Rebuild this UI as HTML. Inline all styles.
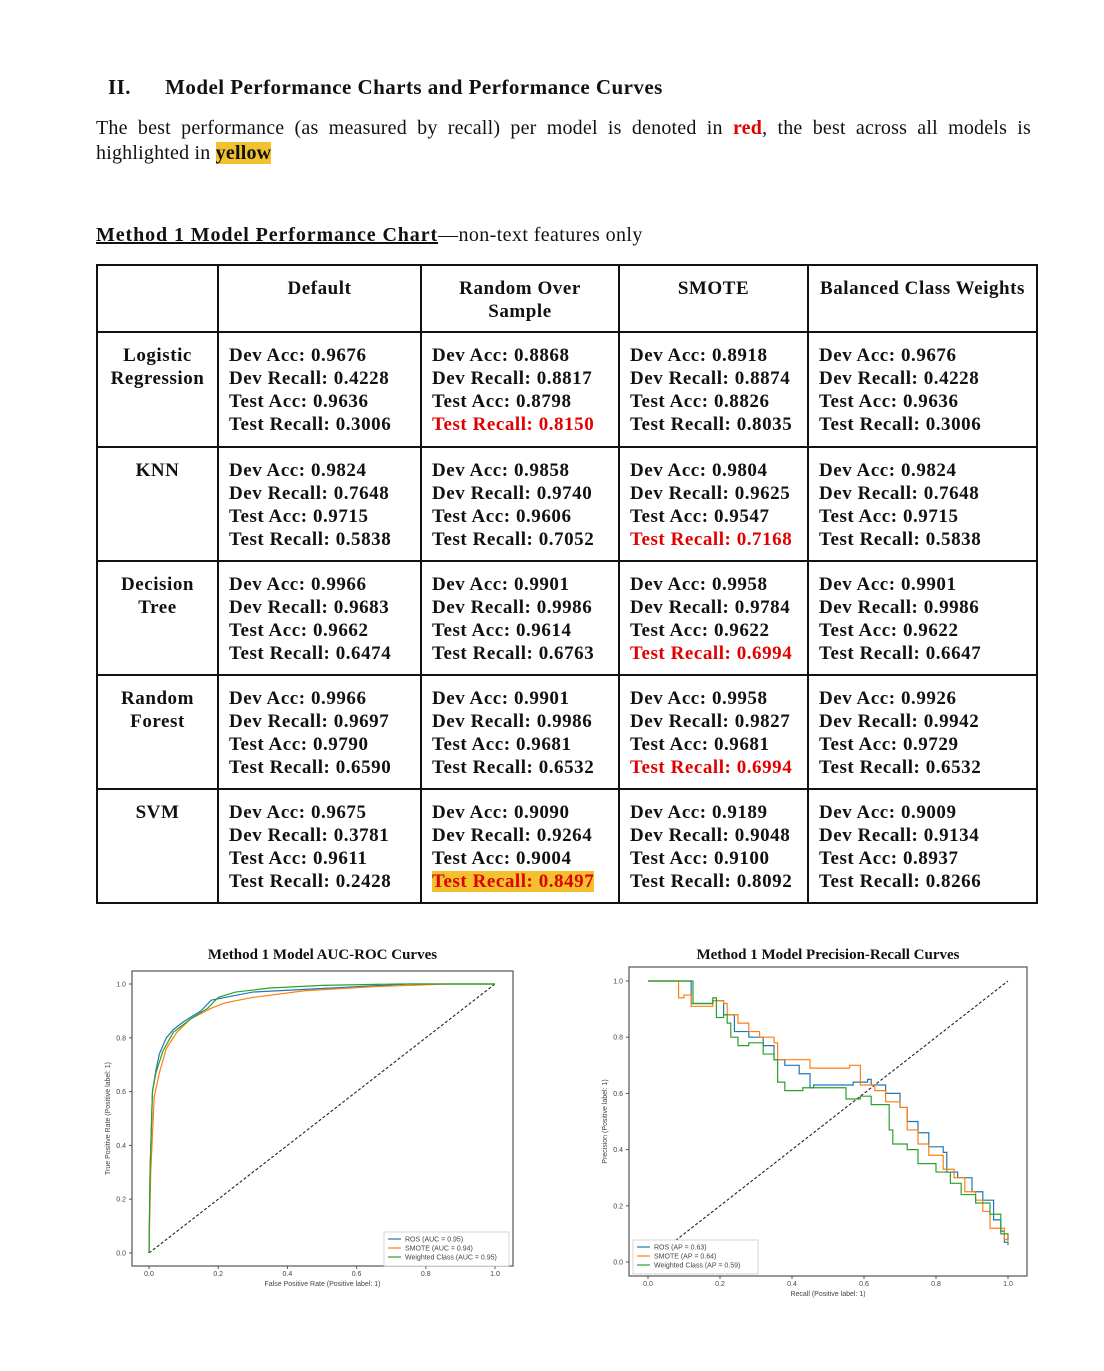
<!DOCTYPE html>
<html><head><meta charset="utf-8">
<style>
body{margin:0;background:#fff;width:1104px;height:1371px;position:relative;overflow:hidden;font-family:"Liberation Serif",serif;color:#111}
h2{position:absolute;left:108px;top:75px;margin:0;font-size:21px;font-weight:bold;letter-spacing:0.45px;white-space:nowrap}
.intro{position:absolute;left:96px;top:116px;width:935px;margin:0;font-size:20px;line-height:25px;letter-spacing:0.2px}
.l1{text-align:justify;text-align-last:justify;white-space:nowrap}
.red{color:#e00000;font-weight:bold}
.hl{background:#f2c12e;font-weight:bold}
.sub{position:absolute;left:96px;top:224px;font-size:20px;letter-spacing:0.4px;white-space:nowrap}
.sub b{text-decoration:underline;letter-spacing:0.9px}
table{position:absolute;left:96px;top:264px;border-collapse:collapse;font-weight:bold;font-size:19px;letter-spacing:0.55px}
td{border:2px solid #111;vertical-align:top;padding:11px 0 0 10px;line-height:23px;box-sizing:border-box;white-space:nowrap}
td.h{text-align:center;padding:11px 2px 0 2px}
.r{color:#e00000}
.y{color:#e00000;background:#f2c12e}
svg{position:absolute;left:0;top:0}
</style></head><body>
<h2>II.&nbsp;&nbsp;&nbsp;&nbsp;&nbsp;&nbsp;Model Performance Charts and Performance Curves</h2>
<div class="intro"><div class="l1">The best performance (as measured by recall) per model is denoted in <span class="red">red</span>, the best across all models is</div><div>highlighted in <span class="hl">yellow</span></div></div>
<div class="sub"><b>Method 1 Model Performance Chart</b>—non-text features only</div>
<table>
<tr style="height:67px"><td style="width:121px"></td><td class="h" style="width:203px">Default</td><td class="h" style="width:198px">Random Over<br>Sample</td><td class="h" style="width:189px">SMOTE</td><td class="h" style="width:229px">Balanced Class Weights</td></tr>
<tr style="height:115px"><td class="h">Logistic<br>Regression</td><td>Dev Acc: 0.9676<br>Dev Recall: 0.4228<br>Test Acc: 0.9636<br>Test Recall: 0.3006</td><td>Dev Acc: 0.8868<br>Dev Recall: 0.8817<br>Test Acc: 0.8798<br><span class="r">Test Recall: 0.8150</span></td><td>Dev Acc: 0.8918<br>Dev Recall: 0.8874<br>Test Acc: 0.8826<br>Test Recall: 0.8035</td><td>Dev Acc: 0.9676<br>Dev Recall: 0.4228<br>Test Acc: 0.9636<br>Test Recall: 0.3006</td></tr>
<tr style="height:114px"><td class="h">KNN</td><td>Dev Acc: 0.9824<br>Dev Recall: 0.7648<br>Test Acc: 0.9715<br>Test Recall: 0.5838</td><td>Dev Acc: 0.9858<br>Dev Recall: 0.9740<br>Test Acc: 0.9606<br>Test Recall: 0.7052</td><td>Dev Acc: 0.9804<br>Dev Recall: 0.9625<br>Test Acc: 0.9547<br><span class="r">Test Recall: 0.7168</span></td><td>Dev Acc: 0.9824<br>Dev Recall: 0.7648<br>Test Acc: 0.9715<br>Test Recall: 0.5838</td></tr>
<tr style="height:114px"><td class="h">Decision<br>Tree</td><td>Dev Acc: 0.9966<br>Dev Recall: 0.9683<br>Test Acc: 0.9662<br>Test Recall: 0.6474</td><td>Dev Acc: 0.9901<br>Dev Recall: 0.9986<br>Test Acc: 0.9614<br>Test Recall: 0.6763</td><td>Dev Acc: 0.9958<br>Dev Recall: 0.9784<br>Test Acc: 0.9622<br><span class="r">Test Recall: 0.6994</span></td><td>Dev Acc: 0.9901<br>Dev Recall: 0.9986<br>Test Acc: 0.9622<br>Test Recall: 0.6647</td></tr>
<tr style="height:114px"><td class="h">Random<br>Forest</td><td>Dev Acc: 0.9966<br>Dev Recall: 0.9697<br>Test Acc: 0.9790<br>Test Recall: 0.6590</td><td>Dev Acc: 0.9901<br>Dev Recall: 0.9986<br>Test Acc: 0.9681<br>Test Recall: 0.6532</td><td>Dev Acc: 0.9958<br>Dev Recall: 0.9827<br>Test Acc: 0.9681<br><span class="r">Test Recall: 0.6994</span></td><td>Dev Acc: 0.9926<br>Dev Recall: 0.9942<br>Test Acc: 0.9729<br>Test Recall: 0.6532</td></tr>
<tr style="height:114px"><td class="h">SVM</td><td>Dev Acc: 0.9675<br>Dev Recall: 0.3781<br>Test Acc: 0.9611<br>Test Recall: 0.2428</td><td>Dev Acc: 0.9090<br>Dev Recall: 0.9264<br>Test Acc: 0.9004<br><span class="y">Test Recall: 0.8497</span></td><td>Dev Acc: 0.9189<br>Dev Recall: 0.9048<br>Test Acc: 0.9100<br>Test Recall: 0.8092</td><td>Dev Acc: 0.9009<br>Dev Recall: 0.9134<br>Test Acc: 0.8937<br>Test Recall: 0.8266</td></tr>
</table>
<svg id="charts" width="1104" height="1371" xmlns="http://www.w3.org/2000/svg" font-family="Liberation Sans, sans-serif"></svg>
<script>
const rocRosX=[0,0.003,0.01,0.02,0.03,0.05,0.07,0.1,0.15,0.18,0.22,0.3,0.45,0.6,0.75,1];
const rocRosY=[0,0.3,0.6,0.68,0.74,0.8,0.83,0.86,0.9,0.94,0.95,0.97,0.98,0.99,1,1];
const rocSmoteX=[0,0.005,0.015,0.03,0.05,0.08,0.12,0.18,0.22,0.3,0.45,0.65,0.86,1];
const rocSmoteY=[0,0.3,0.58,0.67,0.76,0.82,0.87,0.91,0.93,0.95,0.975,0.99,1,1];
const rocWX=[0,0.003,0.01,0.02,0.04,0.07,0.12,0.17,0.2,0.25,0.35,0.5,0.72,1];
const rocWY=[0,0.3,0.6,0.67,0.75,0.82,0.87,0.91,0.95,0.97,0.985,0.995,1,1];
const prRosX=[0,0.12,0.18,0.21,0.24,0.28,0.32,0.35,0.38,0.42,0.45,0.46,0.53,0.57,0.61,0.62,0.66,0.70,0.72,0.75,0.78,0.82,0.83,0.86,0.90,0.93,0.96,0.98,0.99,1.0];
const prRosY=[1,0.92,0.93,0.88,0.82,0.80,0.77,0.72,0.70,0.67,0.62,0.63,0.63,0.64,0.65,0.63,0.60,0.55,0.50,0.46,0.41,0.39,0.32,0.30,0.25,0.22,0.15,0.11,0.07,0.06];
const prSmoteX=[0,0.085,0.10,0.12,0.18,0.21,0.22,0.25,0.28,0.31,0.35,0.36,0.41,0.45,0.53,0.56,0.59,0.63,0.66,0.70,0.72,0.75,0.78,0.82,0.85,0.88,0.91,0.93,0.95,0.99,1.0];
const prSmoteY=[1,0.94,0.95,0.91,0.93,0.92,0.88,0.85,0.82,0.80,0.78,0.72,0.72,0.69,0.69,0.70,0.63,0.61,0.57,0.55,0.47,0.42,0.38,0.33,0.30,0.25,0.22,0.18,0.12,0.08,0.07];
const prWX=[0,0.125,0.18,0.19,0.21,0.22,0.23,0.25,0.28,0.32,0.35,0.36,0.38,0.43,0.54,0.55,0.59,0.62,0.66,0.67,0.68,0.72,0.75,0.80,0.84,0.87,0.91,0.95,0.98,1.0];
const prWY=[1,0.92,0.94,0.87,0.88,0.85,0.80,0.77,0.78,0.74,0.72,0.64,0.61,0.62,0.62,0.58,0.59,0.56,0.56,0.47,0.42,0.40,0.35,0.32,0.28,0.24,0.21,0.17,0.10,0.08];
const ticks=[0,0.2,0.4,0.6,0.8,1.0];
const tickLabels=["0.0","0.2","0.4","0.6","0.8","1.0"];
const colors=["#1f77b4","#ff7f0e","#2ca02c"];
const NS="http://www.w3.org/2000/svg";
const svg=document.getElementById('charts');
function mk(tag,attrs,parent){const e=document.createElementNS(NS,tag);for(const k in attrs)e.setAttribute(k,attrs[k]);(parent||svg).appendChild(e);return e;}
function chart(cfg){
  const g=mk('g',{});
  
  
  const sx=v=>cfg.x0+v*(cfg.x1-cfg.x0), sy=v=>cfg.y0-v*(cfg.y0-cfg.y1);
  const t=mk('text',{x:(cfg.fl+cfg.fr)/2,y:cfg.ty,'text-anchor':'middle','font-size':15,'font-weight':'bold','font-family':'Liberation Serif, serif',fill:'#111'},g);
  t.textContent=cfg.title;
  
  
  const fr=mk('rect',{x:cfg.fl,y:cfg.fy,width:cfg.fr-cfg.fl,height:cfg.fb-cfg.fy,fill:'none',stroke:'#555','stroke-width':1.2},g);
  
  
  ticks.forEach((v,i)=>{
    mk('line',{x1:sx(v),x2:sx(v),y1:cfg.fb,y2:cfg.fb+3,stroke:'#555'},g);
    const tx=mk('text',{x:sx(v),y:cfg.fb+10,'text-anchor':'middle','font-size':7,fill:'#444'},g);tx.textContent=tickLabels[i];
    
    
    mk('line',{x1:cfg.fl-3,x2:cfg.fl,y1:sy(v),y2:sy(v),stroke:'#555'},g);
    const ty=mk('text',{x:cfg.fl-6,y:sy(v)+2.5,'text-anchor':'end','font-size':7,fill:'#444'},g);ty.textContent=tickLabels[i];
    
    
  });
  const xl=mk('text',{x:(cfg.fl+cfg.fr)/2,y:cfg.fb+20,'text-anchor':'middle','font-size':7,fill:'#444'},g);xl.textContent=cfg.xlab;
  
  
  const yx=cfg.fl-22, yy=(cfg.fy+cfg.fb)/2;
  const yl=mk('text',{x:yx,y:yy,'text-anchor':'middle','font-size':7,fill:'#444',transform:`rotate(-90 ${yx} ${yy})`},g);yl.textContent=cfg.ylab;
  
  
  const dg=mk('line',{x1:sx(0),y1:sy(0),x2:sx(1),y2:sy(1),stroke:'#222','stroke-width':1.1,'stroke-dasharray':'3,2'},g);
  
  
  cfg.series.forEach((s,i)=>{
    let d='';
    s.x.forEach((xv,j)=>{
      if(j===0){d+=`M${sx(xv)},${sy(s.y[j])}`;return;}
      if(cfg.step){d+=`H${sx(xv)}V${sy(s.y[j])}`;} else d+=`L${sx(xv)},${sy(s.y[j])}`;
    });
    const p=mk('path',{d:d,fill:'none',stroke:colors[i],'stroke-width':1.2},g);
    
    
  });
  const L=cfg.leg;
  const lr=mk('rect',{x:L.x,y:L.y,width:L.w,height:34,fill:'#fff',stroke:'#ccc','stroke-width':0.8},g);
  
  
  cfg.series.forEach((s,i)=>{
    mk('line',{x1:L.x+4,x2:L.x+17,y1:L.y+7+i*9,y2:L.y+7+i*9,stroke:colors[i],'stroke-width':1.2},g);
    const lt=mk('text',{x:L.x+21,y:L.y+9.5+i*9,'font-size':7,fill:'#444'},g);lt.textContent=s.label;
    
    
  });
}
chart({name:'roc-chart',title:'Method 1 Model AUC-ROC Curves',ty:959,fl:132,fr:513,fy:971,fb:1266,x0:149,x1:495,y0:1253,y1:984,
 xlab:'False Positive Rate (Positive label: 1)',ylab:'True Positive Rate (Positive label: 1)',step:false,
 leg:{x:384,y:1232,w:125},
 series:[{key:'ros',x:rocRosX,y:rocRosY,label:'ROS (AUC = 0.95)'},{key:'smote',x:rocSmoteX,y:rocSmoteY,label:'SMOTE (AUC = 0.94)'},{key:'weighted',x:rocWX,y:rocWY,label:'Weighted Class (AUC = 0.95)'}]});
chart({name:'pr-chart',title:'Method 1 Model Precision-Recall Curves',ty:959,fl:629,fr:1027,fy:967,fb:1276,x0:648,x1:1008,y0:1262,y1:981,
 xlab:'Recall (Positive label: 1)',ylab:'Precision (Positive label: 1)',step:true,
 leg:{x:633,y:1240,w:125},
 series:[{key:'ros',x:prRosX,y:prRosY,label:'ROS (AP = 0.63)'},{key:'smote',x:prSmoteX,y:prSmoteY,label:'SMOTE (AP = 0.64)'},{key:'weighted',x:prWX,y:prWY,label:'Weighted Class (AP = 0.59)'}]});
</script>
</body></html>
